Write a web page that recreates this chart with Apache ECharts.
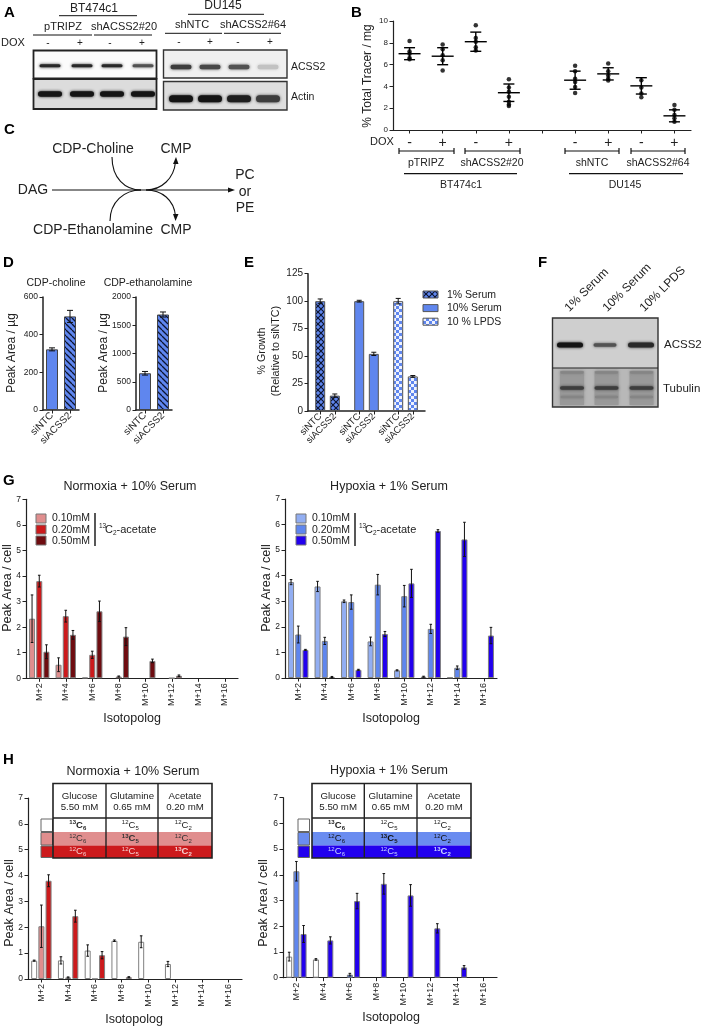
<!DOCTYPE html>
<html><head><meta charset="utf-8">
<style>html,body{margin:0;padding:0;background:#fff}#c{width:708px;height:1028px}#c canvas{filter:blur(.4px)}</style>
<script src="https://cdn.jsdelivr.net/npm/echarts@6/dist/echarts.min.js"></script></head>
<body><div id="c"></div>
<script>
// ---------- DATA ----------
const doxLabels = ['-','+','-','+','','-','+','-','+'];
const tracerPoints = [
 [8.17,7.2,7.0,6.6,6.5],[7.85,7.4,6.85,6.4,5.45],[9.6,8.45,8.1,7.6,7.3],[4.66,3.9,3.5,3.05,2.6,2.35,2.2],[],
 [5.9,5.4,4.7,4.4,3.95,3.4],[6.1,5.4,5.0,4.7,4.55],[4.57,3.9,3.35,3.0],[2.3,1.85,1.37,1.07,0.76]];
const tracerMean = [7.0,6.77,8.1,3.42,null,4.57,5.15,4.05,1.3];
const tracerSD = [0.55,0.78,0.88,0.8,null,0.83,0.56,0.75,0.55];
const siLabels = ['siNTC','siACSS2'];
const cholineValues = [322,497]; const cholineErr = [8,32];
const ethanolValues = [650,1690]; const ethanolErr = [32,45];
const growthCats = ['','','siNTC','','','siACSS2','','','','','siNTC','','','siACSS2','','','','','siNTC','','','siACSS2','',''];
const growthValues = [100,14,100,52,100,31.5];
const growthErr = [2,1.5,0.8,1.5,2.5,0.8];
const isoCats = ['M+2','M+4','M+6','M+8','M+10','M+12','M+14','M+16'];
const gN1 = [2.33,0.53,0.03,0,0,0,0,0];       const gN1e = [0.93,0.27,0,0,0,0,0,0];
const gN2 = [3.8,2.43,0.92,0.07,0,0.01,0,0];  const gN2e = [0.23,0.23,0.14,0.02,0,0,0,0];
const gN3 = [1.04,1.7,2.62,1.63,0.68,0.1,0,0];const gN3e = [0.27,0.17,0.4,0.35,0.07,0.03,0,0];
const gH1 = [3.75,3.58,3.0,1.43,0.3,0.05,0.02,0];   const gH1e = [0.1,0.2,0.05,0.17,0.02,0.02,0,0];
const gH2 = [1.7,1.45,2.97,3.65,3.2,1.92,0.4,0];    const gH2e = [0.33,0.14,0.28,0.4,0.42,0.18,0.07,0];
const gH3 = [1.1,0.04,0.32,1.72,3.7,5.75,5.42,1.66];const gH3e = [0.02,0.02,0.02,0.1,0.55,0.05,0.67,0.32];
const hN1 = [0.71,0.72,1.1,1.48,1.44,0.58,0,0];  const hN1e = [0.02,0.14,0.22,0.03,0.23,0.1,0,0];
const hN2 = [2.04,0.06,0.01,0,0,0,0,0];          const hN2e = [0.82,0.02,0,0,0,0,0,0];
const hN3 = [3.8,2.43,0.92,0.07,0,0,0,0];        const hN3e = [0.23,0.23,0.14,0.02,0,0,0,0];
const hH1 = [0.82,0.71,0,0,0,0,0,0];             const hH1e = [0.17,0.03,0,0,0,0,0,0];
const hH2 = [4.14,0,0.12,0,0,0,0,0];             const hH2e = [0.38,0,0.05,0,0,0,0,0];
const hH3 = [1.7,1.45,2.98,3.65,3.2,1.92,0.4,0]; const hH3e = [0.33,0.14,0.3,0.4,0.42,0.18,0.07,0];
const concLabels = ['0.10mM','0.20mM','0.50mM'];
const serumLegend = ['1% Serum','10% Serum','10 % LPDS'];
const tableHeads = [['Glucose','5.50 mM'],['Glutamine','0.65 mM'],['Acetate','0.20 mM']];
const tableIso = [[['13','6'],['12','5'],['12','2']],[['12','6'],['13','5'],['12','2']],[['12','6'],['12','5'],['13','2']]];
const redShades = ['#e08e8e','#cc1a1c','#6e0c10'];
const blueShades = ['#92aef2','#5f86ee','#2200ee'];
// band strength of the western blots (0..1)
const blotA1 = [.9,.9,.9,.7], blotA2 = [1,1,1,1], blotA3 = [.8,.75,.7,.15], blotA4 = [1,1,.95,.8], blotF = [1,.7,.9];

// ---------- HELPERS ----------
const FF = '"Liberation Sans",Arial,sans-serif', INK = '#222';
const g = [];
function T(x,y,text,size,o){o=o||{};g.push({type:'text',x,y,rotation:o.rot||0,z:o.z||5,style:{x:0,y:0,text,font:(o.bold?'bold ':'')+size+'px '+FF,fill:o.fill||INK,align:o.align||'center',verticalAlign:o.va||'middle'}});}
function L(x1,y1,x2,y2,w,c){g.push({type:'line',z:4,shape:{x1,y1,x2,y2},style:{stroke:c||'#111',lineWidth:w||1}});}
function R(x,y,w,h,fill,stroke,lw,extra){g.push({type:'rect',z:(extra&&extra.z)||3,shape:{x,y,width:w,height:h,r:(extra&&extra.r)||0},style:Object.assign({fill,stroke:stroke||null,lineWidth:lw||0},extra&&extra.style||{})});}
function grey(a){const v=Math.round(225-a*205);return 'rgb('+v+','+v+','+v+')';}
function band(cx,cy,w,h,a){const c=grey(a);R(cx-w/2,cy-h/2,w,h,c,null,0,{r:h/2,z:3,style:{shadowBlur:3,shadowColor:c}});}
function pattern(draw,s){const c=document.createElement('canvas');c.width=s;c.height=s;draw(c.getContext('2d'),s);return {image:c,repeat:'repeat'};}
const BLUE = '#5f86ee';
const hatch = pattern((x,s)=>{x.fillStyle=BLUE;x.fillRect(0,0,s,s);x.strokeStyle='#0c1430';x.lineWidth=1.3;x.beginPath();for(let i=-s;i<=2*s;i+=s){x.moveTo(i,0);x.lineTo(i+s,s);}x.stroke();},6);
const cross = pattern((x,s)=>{x.fillStyle=BLUE;x.fillRect(0,0,s,s);x.strokeStyle='#0c1430';x.lineWidth=1.2;x.beginPath();x.moveTo(0,0);x.lineTo(s,s);x.moveTo(s,0);x.lineTo(0,s);x.stroke();},6);
const check = pattern((x,s)=>{x.fillStyle='#eef2fd';x.fillRect(0,0,s,s);x.fillStyle=BLUE;x.fillRect(0,0,s/2,s/2);x.fillRect(s/2,s/2,s/2,s/2);},6);

const grids=[],xAxes=[],yAxes=[],series=[];
function panel(left,top,w,h,cats,ymax,yint,o){
  const i=grids.length; o=o||{};
  grids.push({left,top,width:w,height:h});
  const lw=o.lw||1.2;
  xAxes.push({type:'category',gridIndex:i,data:cats,
    axisLine:{lineStyle:{color:'#222',width:lw}},
    axisTick:{show:true,alignWithLabel:true,length:3.5,lineStyle:{color:'#222',width:1},interval:o.tickInt===undefined?0:o.tickInt},
    axisLabel:{interval:o.labelInt===undefined?0:o.labelInt,rotate:o.rot||0,fontFamily:FF,fontSize:o.xfont||9,color:INK,margin:o.margin||5}});
  yAxes.push({type:'value',gridIndex:i,min:0,max:ymax,interval:yint,splitLine:{show:false},
    axisLine:{show:true,lineStyle:{color:'#222',width:lw}},axisTick:{show:true,length:3.5,lineStyle:{color:'#222',width:1}},
    axisLabel:{fontFamily:FF,fontSize:o.yfont||8.5,color:INK,margin:5,formatter:v=>String(v)}});
  return i;
}
function errSeries(ax,rows,off,capW,lw){
  return {type:'custom',xAxisIndex:ax,yAxisIndex:ax,z:6,silent:true,data:rows,encode:{x:0,y:1},clip:false,
    renderItem:(p,api)=>{
      const cat=api.value(0),v=api.value(1),e=api.value(2);
      const hi=api.coord([cat,v+e]),lo=api.coord([cat,v-e]),x=hi[0]+off;
      const st={stroke:'#111',lineWidth:lw||1,fill:null};
      return {type:'group',children:[
        {type:'line',shape:{x1:x,y1:hi[1],x2:x,y2:lo[1]},style:st},
        {type:'line',shape:{x1:x-capW,y1:hi[1],x2:x+capW,y2:hi[1]},style:st},
        {type:'line',shape:{x1:x-capW,y1:lo[1],x2:x+capW,y2:lo[1]},style:st}]};
    }};
}
function errRows(v,e){return v.map((d,i)=>[i,d,e[i]]).filter(r=>r[2]>0);}
function grouped(ax,vals,errs,styles){
  vals.forEach((v,k)=>{
    series.push({type:'bar',xAxisIndex:ax,yAxisIndex:ax,data:v.map(d=>d>0?d:null),barWidth:6,barGap:'20%',
      itemStyle:{color:styles[k],borderColor:'#808080',borderWidth:1}});
    series.push(errSeries(ax,errRows(v,errs[k]),(k-1)*7.2,1.3,1));
  });
}

// ---------- PANEL B ----------
const bi=panel(393,21,298,109,doxLabels,10,2,{xfont:14,margin:6,yfont:8});
series.push({type:'scatter',xAxisIndex:bi,yAxisIndex:bi,symbolSize:4.5,itemStyle:{color:'#000'},
  data:tracerPoints.flatMap((a,i)=>a.map(v=>[i,v]))});
series.push({type:'custom',xAxisIndex:bi,yAxisIndex:bi,z:6,encode:{x:0,y:1},
  data:tracerMean.map((m,i)=>[i,m,tracerSD[i]]).filter(r=>r[1]!==null),
  renderItem:(p,api)=>{
    const c=api.value(0),m=api.value(1),s=api.value(2);
    const a=api.coord([c,m]),h=api.coord([c,m+s]),l=api.coord([c,m-s]);
    const st={stroke:'#000',lineWidth:1.4,fill:null};
    const ln=(x1,y1,x2,y2)=>({type:'line',shape:{x1,y1,x2,y2},style:st});
    return {type:'group',children:[ln(a[0]-11,a[1],a[0]+11,a[1]),ln(a[0],h[1],a[0],l[1]),ln(a[0]-5.5,h[1],a[0]+5.5,h[1]),ln(a[0]-5.5,l[1],a[0]+5.5,l[1])]};
  }});
T(368,76,'% Total Tracer / mg',12,{rot:Math.PI/2});
T(370,142,'DOX',11,{align:'left'});
[[399,454,426,'pTRIPZ'],[465,520,492,'shACSS2#20'],[565,619,592,'shNTC'],[631,685,658,'shACSS2#64']].forEach(b=>{
  L(b[0],151,b[1],151,1.2);L(b[0],148,b[0],154,1.2);L(b[1],148,b[1],154,1.2);T(b[2],163,b[3],10.5);});
L(404,173.7,517,173.7,1.2);L(569,173.7,683,173.7,1.2);T(461,185,'BT474c1',10.5);T(625,185,'DU145',10.5);

// ---------- PANEL D ----------
function dPanel(left,vals,errs,max,int){
  const i=panel(left,297,36,113,siLabels,max,int,{rot:45,xfont:10,margin:4,lw:1.5});
  series.push({type:'bar',xAxisIndex:i,yAxisIndex:i,barWidth:12,
    data:[{value:vals[0],itemStyle:{color:BLUE}},{value:vals[1],itemStyle:{color:hatch}}],
    itemStyle:{borderColor:'#444',borderWidth:1}});
  series.push(errSeries(i,errRows(vals,errs),0,3,1));
}
dPanel(43,cholineValues,cholineErr,600,200);
dPanel(136,ethanolValues,ethanolErr,2000,500);
T(56,283,'CDP-choline',10.5);T(148,283,'CDP-ethanolamine',10.5);
T(12,353,'Peak Area / µg',12,{rot:Math.PI/2});T(104,353,'Peak Area / µg',12,{rot:Math.PI/2});

// ---------- PANEL E ----------
const showGrowth=(i,v)=>v!=='';
const ei=panel(308,273.7,117,137.3,growthCats,125,25,{rot:45,xfont:9.5,margin:4,lw:1.5,yfont:10,labelInt:showGrowth,tickInt:showGrowth});
let ek=0;
const eFill=[cross,cross,BLUE,BLUE,check,check];
series.push({type:'bar',xAxisIndex:ei,yAxisIndex:ei,barWidth:10,itemStyle:{borderColor:'#555',borderWidth:1},
  data:growthCats.map(c=>{ if(!c) return null; const d={value:growthValues[ek],itemStyle:{color:eFill[ek]}}; ek++; return d;})});
let ej=0;
series.push(errSeries(ei,growthCats.map((c,i)=>c?[i,growthValues[ej],growthErr[ej++]]:null).filter(Boolean),0,2.5,1));
T(262,351,'% Growth',10.7,{rot:Math.PI/2});T(276,351,'(Relative to siNTC)',10.7,{rot:Math.PI/2});
[cross,BLUE,check].forEach((f,i)=>{g.push({type:'rect',z:4,shape:{x:423,y:291+i*13.6,width:15,height:7},style:{fill:f,stroke:'#555',lineWidth:1}});T(447,295+i*13.6,serumLegend[i],10.5,{align:'left'});});

// ---------- PANEL G ----------
function legendConc(x,shades,lx){
  shades.forEach((c,i)=>{R(x,514+i*11,10,9,c,'#777',1);T(x+16,518.5+i*11.4,concLabels[i],10.5,{align:'left'});});
  L(lx,513,lx,546,1.4);
  T(lx+4,526,'13',6.5,{align:'left'});T(lx+10,530,'C',11,{align:'left'});T(lx+18,533,'2',6.5,{align:'left'});T(lx+21.5,530,'-acetate',11,{align:'left'});
}
const gl=panel(26,499.3,212,179,isoCats,7,1,{rot:90});
grouped(gl,[gN1,gN2,gN3],[gN1e,gN2e,gN3e],redShades);
const gr=panel(285,499,212,179,isoCats,7,1,{rot:90});
grouped(gr,[gH1,gH2,gH3],[gH1e,gH2e,gH3e],blueShades);
T(130,487,'Normoxia + 10% Serum',12.5);T(389,487,'Hypoxia + 1% Serum',12.5);
T(8,588,'Peak Area / cell',12.5,{rot:Math.PI/2});T(267,588,'Peak Area / cell',12.5,{rot:Math.PI/2});
T(132,719,'Isotopolog',12.5);T(391,719,'Isotopolog',12.5);
legendConc(36,redShades,95);legendConc(296,blueShades,355);

// ---------- PANEL H ----------
const hl=panel(28,798,214,181,isoCats,7,1,{rot:90});
grouped(hl,[hN1,hN2,hN3],[hN1e,hN2e,hN3e],['#ffffff','#e08e8e','#cc1a1c']);
const hr=panel(283,797.7,214,180,isoCats,7,1,{rot:90});
grouped(hr,[hH1,hH2,hH3],[hH1e,hH2e,hH3e],['#ffffff','#5f86ee','#2200ee']);
T(133,772,'Normoxia + 10% Serum',12.5);T(389,771,'Hypoxia + 1% Serum',12.5);
T(10,903,'Peak Area / cell',12.5,{rot:Math.PI/2});T(264,903,'Peak Area / cell',12.5,{rot:Math.PI/2});
T(134,1020,'Isotopolog',12.5);T(391,1018,'Isotopolog',12.5);
function isoTable(x0,x1,x2,x3,sw,shades,txt){
  const rows=[818.5,832,845.5,858];
  [0,1,2].forEach(r=>{
    R(x0,rows[r],x3-x0,rows[r+1]-rows[r],shades[r]);
    R(sw,rows[r]+.5,11.5,rows[r+1]-rows[r]-1,shades[r],'#666',1);
  });
  const cx=[(x0+x1)/2,(x1+x2)/2,(x2+x3)/2];
  tableHeads.forEach((h,c)=>{T(cx[c],796,h[0],9.7);T(cx[c],807,h[1],9.7);});
  tableIso.forEach((row,r)=>row.forEach((e,c)=>{
    const cy=(rows[r]+rows[r+1])/2, bold=e[0]==='13', col=txt[r];
    T(cx[c]-3.5,cy-2.5,e[0],6,{align:'right',bold,fill:col});
    T(cx[c],cy,'C',9.5,{bold,fill:col});
    T(cx[c]+3.5,cy+3,e[1],6,{align:'left',bold,fill:col});
  }));
  R(x0,783.5,x3-x0,74.5,'none','#222',1.6,{z:4});
  L(x0,818,x3,818,1.4,'#222');L(x1,783.5,x1,858,1.4,'#222');L(x2,783.5,x2,858,1.4,'#222');
}
isoTable(53,106,158,212,41,['#ffffff','#e08e8e','#cc1a1c'],['#222','#333','#f6d0d0']);
isoTable(312,364.3,417,471,298,['#ffffff','#6a8cf0','#2200ee'],['#222','#111','#c8d4ff']);

// ---------- PANEL A (blots) ----------
T(94,8.5,'BT474c1',12);L(59,15.7,137,15.7,1);
T(63,26.7,'pTRIPZ',11);T(124,26.7,'shACSS2#20',11);L(33,35,92,35,1);L(94,35,152,35,1);
T(1,43,'DOX',11,{align:'left'});
[48,80,110,142].forEach((x,i)=>T(x,43,i%2?'+':'-',10));
R(33.5,50.5,123,28,'#fbfbfb');R(33.5,79,123,30,'#dcdcdc');
[50,82,112,143].forEach((x,i)=>band(x,65.7,21,3,blotA1[i]));
[50,82,112,143].forEach((x,i)=>band(x,94,24,5.5,blotA2[i]));
R(33.5,50.5,123,28,'none','#222',1.8,{z:4});R(33.5,79,123,30,'none','#222',1.8,{z:4});
T(223,6,'DU145',12);L(188,14.3,264,14.3,1);
T(192,25,'shNTC',11);T(253,25,'shACSS2#64',11);L(165,33.3,222,33.3,1);L(224,33.3,281,33.3,1);
[179,210,238,270].forEach((x,i)=>T(x,42,i%2?'+':'-',10));
R(163.5,50,123.5,28,'#f0f0f0');R(163.5,81.5,123.5,28.5,'#dedede');
[181,210,239,268].forEach((x,i)=>band(x,67,21,4.5,blotA3[i]));
[181,210,239,268].forEach((x,i)=>band(x,98.7,24,7,blotA4[i]));
R(163.5,50,123.5,28,'none','#333',1.4,{z:4});R(163.5,81.5,123.5,28.5,'none','#333',1.4,{z:4});
T(291,67,'ACSS2',10.5,{align:'left'});T(291,97,'Actin',10.5,{align:'left'});

// ---------- PANEL C (pathway) ----------
T(93,149,'CDP-Choline',14);T(176,149,'CMP',14);T(33,190,'DAG',14);
T(93,230,'CDP-Ethanolamine',14);T(176,230,'CMP',14);
T(245,175,'PC',14);T(245,192,'or',14);T(245,208,'PE',14);
L(52,190,230,190,1.1);
g.push({type:'polygon',z:4,shape:{points:[[235,190],[228,187.5],[228,192.5]]},style:{fill:'#111'}});
function curve(a,b,c,d,e,f,h,i){g.push({type:'bezierCurve',z:4,shape:{x1:a,y1:b,cpx1:c,cpy1:d,cpx2:e,cpy2:f,x2:h,y2:i},style:{stroke:'#111',lineWidth:1.1,fill:null}});}
curve(112,157,112,178,125,190,141,190);
curve(146,190,162,190,174,178,175.5,162);
curve(110,221,110,202,124,190,141,190);
curve(146,190,162,190,174,200,175.5,216);
g.push({type:'polygon',z:4,shape:{points:[[176,157],[173,164],[178.5,164]]},style:{fill:'#111'}});
g.push({type:'polygon',z:4,shape:{points:[[175.5,221],[173,214],[178.5,214]]},style:{fill:'#111'}});

// ---------- PANEL F (blot) ----------
[[567,'1% Serum'],[605,'10% Serum'],[642,'10% LPDS']].forEach(a=>T(a[0],310,a[1],12,{rot:Math.PI/4,align:'left'}));
R(552.5,318,105.5,50,'#cfcfcf');R(552.5,368,105.5,39,'#b8b8b8');
[570,605,641].forEach((x,i)=>band(x,345,i===1?23:26,i===1?3.5:5,blotF[i]));
[572,606.5,641.5].forEach(x=>{
  R(x-12,371,24,34,'#999999',null,0,{z:3,style:{shadowBlur:3,shadowColor:'#999999'}});
  band(x,372.5,23,2.5,.45);band(x,388,24,3.5,.8);band(x,397,23,2.5,.45);
});
R(552.5,318,105.5,89,'none','#333',1.4,{z:4});L(552.5,368,658,368,1.2,'#222');
T(664,345,'ACSS2',11.5,{align:'left'});T(663,389,'Tubulin',11.5,{align:'left'});

// ---------- PANEL LETTERS ----------
[['A',4,13],['B',351,13],['C',4,130],['D',3,263],['E',244,263],['F',538,263],['G',3,481],['H',3,760]].forEach(a=>T(a[1],a[2],a[0],15,{bold:true,align:'left',fill:'#000'}));

const chart=echarts.init(document.getElementById('c'),null,{renderer:'canvas'});
chart.setOption({animation:false,backgroundColor:'#fff',grid:grids,xAxis:xAxes,yAxis:yAxes,series,graphic:{elements:g}});
</script></body></html>
